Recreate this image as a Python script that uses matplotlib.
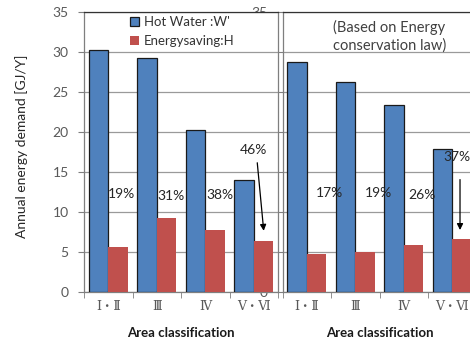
import matplotlib
matplotlib.use("Agg")
import matplotlib.pyplot as plt
from matplotlib.patches import Patch
import numpy as np

plt.rcParams['font.family'] = ['Lato', 'DejaVu Sans']

areas = ["Ⅰ・Ⅱ", "Ⅲ", "Ⅳ", "Ⅴ・Ⅵ"]

# Left panel: standard case
hot_water_left = [30.2, 29.3, 20.3, 14.0]
saving_left = [5.6, 9.2, 7.75, 6.4]
pct_left = ["19%", "31%", "38%", "46%"]

# Right panel: based on Energy conservation law
hot_water_right = [28.7, 26.3, 23.4, 17.9]
saving_right = [4.8, 5.0, 5.9, 6.6]
pct_right = ["17%", "19%", "26%", "37%"]

BLUE = "#4F81BD"
RED = "#C0504D"
GRID = "#9a9a9a"
TICKC = "#595959"

fig = plt.figure(figsize=(4.7, 3.43), dpi=100)
W, H = 470.0, 343.0
ax_l = fig.add_axes([84 / W, 51 / H, 194 / W, 280 / H], zorder=3)
ax_r = fig.add_axes([282.5 / W, 51 / H, 194 / W, 280 / H], zorder=1)

x = np.arange(len(areas))
bw = 0.4


def style(ax, hw, sv):
    ax.bar(x - bw / 2, hw, bw, color=BLUE, edgecolor="#1a1a1a", linewidth=0.9, zorder=3)
    ax.bar(x + bw / 2, sv, bw, color=RED, edgecolor="none", zorder=3)
    ax.set_xlim(-0.5, 3.5)
    ax.set_ylim(0, 35)
    ax.set_yticks(np.arange(0, 36, 5))
    ax.yaxis.grid(True, color=GRID, linewidth=0.9)
    ax.set_axisbelow(True)
    ax.set_xticks(x)
    ax.set_xticklabels(areas, family=["DejaVu Serif", "Noto Sans CJK JP"], fontsize=9, color=TICKC)
    ax.set_xticks(np.arange(-0.5, 4, 1), minor=True)
    ax.tick_params(axis="x", which="major", length=0, pad=6)
    ax.tick_params(axis="x", which="minor", length=4, color="#7f7f7f", direction="out")
    ax.tick_params(axis="y", length=4, color="#7f7f7f", labelsize=10, labelcolor=TICKC, pad=7)
    for s in ax.spines.values():
        s.set_color("#7f7f7f")
        s.set_linewidth(0.9)
    ax.spines["top"].set_color("#333333")
    ax.set_xlabel("Area classification", fontsize=9.5, fontweight="bold", color="#1a1a1a")
    ax.xaxis.set_label_coords(0.5, -0.125)
    ax.set_facecolor("white")


style(ax_l, hot_water_left, saving_left)
style(ax_r, hot_water_right, saving_right)

ax_l.set_ylabel("Annual energy demand [GJ/Y]", fontsize=10, color="#262626")
ax_l.yaxis.set_label_coords(-0.29, 0.52)

# Legend
handles = [Patch(facecolor=BLUE, edgecolor="#1a1a1a", linewidth=0.9, label="Hot Water :W'"),
           Patch(facecolor=RED, edgecolor="none", label="Energysaving:H")]
leg = ax_l.legend(handles=handles, loc="upper left", bbox_to_anchor=(0.235, 0.985),
                  frameon=False, fontsize=9.5, handlelength=0.7, handleheight=0.7,
                  handletextpad=0.4, labelspacing=0.55, borderpad=0.0,
                  borderaxespad=0.0)
for t in leg.get_texts():
    t.set_color("#333333")

ax_r.text(1.70, 32.0, "(Based on Energy\nconservation law)", ha="center", va="center",
          fontsize=10.5, color="#404040", linespacing=1.3)

# Percentage labels
left_pos = [(0.263, 12.25), (1.294, 12.0), (2.304, 12.1), (2.985, 17.75)]
right_pos = [(0.459, 12.4), (1.469, 12.4), (2.376, 12.1), (3.098, 16.9)]
for ax, labels, pos in ((ax_l, pct_left, left_pos), (ax_r, pct_right, right_pos)):
    for lab, (px, py) in zip(labels, pos):
        ax.text(px, py, lab, ha="center", va="center", fontsize=10, color="#262626", zorder=5)

ax_l.annotate("", xy=(3.211, 7.3), xytext=(3.067, 16.5),
              arrowprops=dict(arrowstyle="-|>", color="black", lw=0.9, mutation_scale=9), zorder=5)
ax_r.annotate("", xy=(3.16, 7.4), xytext=(3.16, 14.4),
              arrowprops=dict(arrowstyle="-|>", color="black", lw=0.9, mutation_scale=9), zorder=5)

fig.savefig("out.png", dpi=100)
